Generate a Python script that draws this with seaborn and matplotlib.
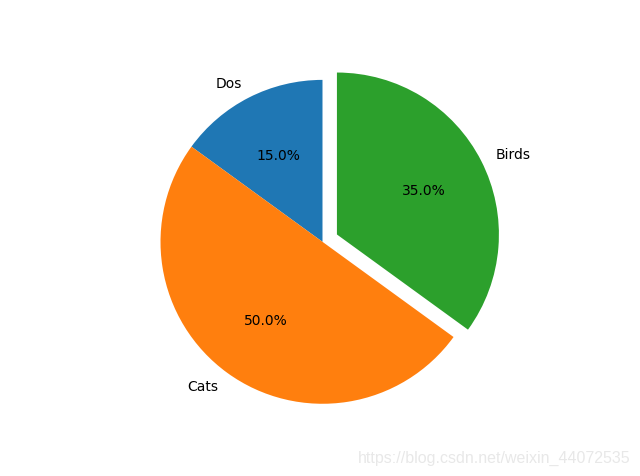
import matplotlib
matplotlib.use("Agg")
import matplotlib.pyplot as plt
import seaborn as sns

labels = ["Dos", "Cats", "Birds"]
sizes = [15, 50, 35]
explode = [0, 0, 0.1]

colors = sns.color_palette("tab10", 3)

fig, ax = plt.subplots(figsize=(6.4, 4.77), dpi=100)
ax.pie(sizes, labels=labels, explode=explode, colors=colors,
       autopct="%1.1f%%", startangle=90)

# equal scaling, pie centred where the reference puts it
ax.set_aspect("auto")
ax.set_ylim(-1.122, 1.146)
ax.set_xlim(-1.497, 1.565)

fig.text(0.985, 0.038, "https://blog.csdn.net/weixin_44072535",
         ha="right", va="center", color="#e8e8e8", fontsize=11.5,
         family="Liberation Sans")

fig.savefig("out.png", dpi=100)
